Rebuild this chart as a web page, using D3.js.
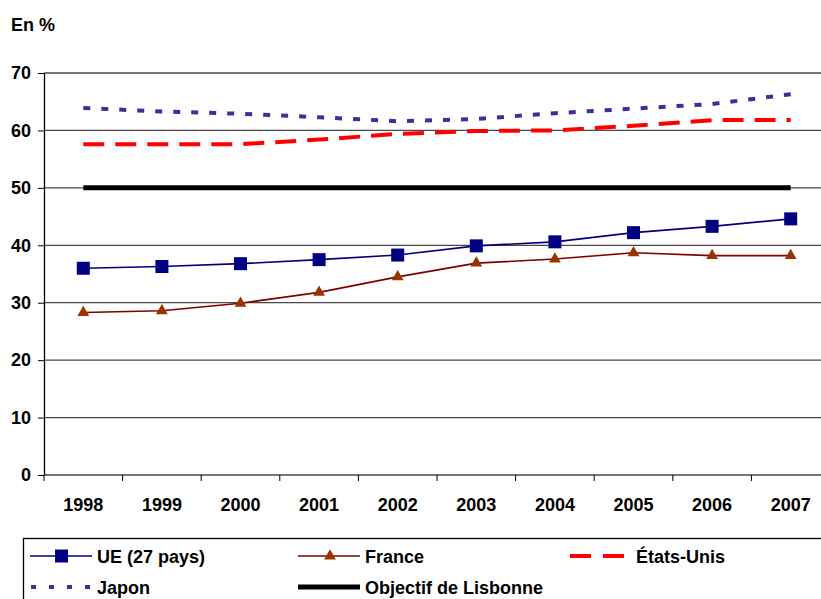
<!DOCTYPE html>
<html>
<head>
<meta charset="utf-8">
<script src="https://cdn.jsdelivr.net/npm/d3@7"></script>
<style>
body { margin: 0; background: #fff; }
svg { display: block; font-family: "Liberation Sans", Arial, sans-serif; font-weight: bold; }
</style>
</head>
<body>
<div id="chart"></div>
<script>
/*///////////////////////////////////////////////////////////
//Data
///////////////////////////////////////////////////////////*/
var years = ["1998", "1999", "2000", "2001", "2002", "2003", "2004", "2005", "2006", "2007"];
var yTicks = [0, 10, 20, 30, 40, 50, 60, 70];

var ue = [36.0, 36.3, 36.8, 37.5, 38.3, 39.9, 40.6, 42.2, 43.3, 44.6];
var france = [28.3, 28.6, 29.9, 31.8, 34.5, 36.9, 37.6, 38.7, 38.2, 38.2];
var etatsUnis = [57.6, 57.6, 57.6, 58.4, 59.4, 59.9, 60.0, 60.8, 61.8, 61.8];
var japon = [63.9, 63.3, 62.9, 62.3, 61.6, 62.0, 63.0, 63.8, 64.6, 66.3];
var lisbonne = [50, 50, 50, 50, 50, 50, 50, 50, 50, 50];

var legendItems = [
	{name: "UE (27 pays)", key: "ue"},
	{name: "France", key: "france"},
	{name: "États-Unis", key: "us"},
	{name: "Japon", key: "jp"},
	{name: "Objectif de Lisbonne", key: "lis"}
];

/*///////////////////////////////////////////////////////////
//Setup
///////////////////////////////////////////////////////////*/
var width = 821, height = 599;

var svg = d3.select("#chart").append("svg")
	.attr("width", width)
	.attr("height", height);

var x = d3.scaleBand()
	.domain(years)
	.range([44, 830]);

var y = d3.scaleLinear()
	.domain([0, 70])
	.range([475, 73]);

var cx = function(d, i) { return x(years[i]) + x.bandwidth() / 2; };

/*Gridlines*/
svg.append("g").selectAll("line")
	.data(yTicks)
	.enter().append("line")
	.attr("x1", 44).attr("x2", 830)
	.attr("y1", function(d) { return y(d); })
	.attr("y2", function(d) { return y(d); })
	.style("stroke", "#4a4a4a")
	.style("stroke-width", 1.3);

/*Y axis*/
var yAxis = svg.append("g")
	.attr("transform", "translate(44,0)")
	.call(d3.axisLeft(y).tickValues(yTicks).tickSize(6).tickPadding(7).tickSizeOuter(0));
yAxis.select(".domain").style("stroke", "#000").style("stroke-width", 1.3);
yAxis.selectAll(".tick line").style("stroke", "#000");
yAxis.selectAll("text")
	.style("font-size", "18px")
	.style("font-weight", "bold")
	.style("font-family", "'Liberation Sans', Arial, sans-serif")
	.attr("fill", "#000");

/*X axis: ticks at category boundaries*/
var xAxis = svg.append("g")
	.attr("transform", "translate(0,475)");
xAxis.selectAll("line")
	.data(years)
	.enter().append("line")
	.attr("x1", function(d) { return x(d); })
	.attr("x2", function(d) { return x(d); })
	.attr("y1", 0).attr("y2", 6)
	.style("stroke", "#000");
xAxis.selectAll("text")
	.data(years)
	.enter().append("text")
	.attr("x", function(d) { return x(d) + x.bandwidth() / 2; })
	.attr("y", 36)
	.attr("text-anchor", "middle")
	.style("font-size", "18px")
	.text(function(d) { return d; });

/*Unit label*/
svg.append("text")
	.attr("x", 11)
	.attr("y", 31)
	.style("font-size", "18px")
	.text("En %");

/*///////////////////////////////////////////////////////////
//Lines
///////////////////////////////////////////////////////////*/
var line = d3.line()
	.x(cx)
	.y(function(d) { return y(d); });

svg.append("path").datum(lisbonne)
	.attr("d", line)
	.style("fill", "none").style("stroke", "#000").style("stroke-width", 5);

svg.append("path").datum(japon)
	.attr("d", line)
	.style("fill", "none").style("stroke", "#333399").style("stroke-width", 4)
	.style("stroke-dasharray", "7,11");

svg.append("path").datum(etatsUnis)
	.attr("d", line)
	.style("fill", "none").style("stroke", "#ff0000").style("stroke-width", 4)
	.style("stroke-dasharray", "21,11");

svg.append("path").datum(france)
	.attr("d", line)
	.style("fill", "none").style("stroke", "#800000").style("stroke-width", 1.6);

var tri = d3.symbol().type(d3.symbolTriangle).size(60);
svg.append("g").selectAll("path")
	.data(france)
	.enter().append("path")
	.attr("d", tri)
	.attr("transform", function(d, i) { return "translate(" + cx(d, i) + "," + y(d) + ")"; })
	.style("fill", "#993300");

svg.append("path").datum(ue)
	.attr("d", line)
	.style("fill", "none").style("stroke", "#000080").style("stroke-width", 1.6);

svg.append("g").selectAll("rect")
	.data(ue)
	.enter().append("rect")
	.attr("x", function(d, i) { return cx(d, i) - 6.5; })
	.attr("y", function(d) { return y(d) - 6.5; })
	.attr("width", 13).attr("height", 13)
	.style("fill", "#000080");

/*///////////////////////////////////////////////////////////
//Legend
///////////////////////////////////////////////////////////*/
svg.append("rect")
	.attr("x", 23.5).attr("y", 538.5)
	.attr("width", 820).attr("height", 100)
	.style("fill", "none").style("stroke", "#000").style("stroke-width", 1.3);

var legPos = [
	{x: 30, y: 556}, {x: 298, y: 556}, {x: 570, y: 556},
	{x: 30, y: 587}, {x: 298, y: 587}
];

var leg = svg.append("g").selectAll("g")
	.data(legendItems)
	.enter().append("g")
	.attr("transform", function(d, i) { return "translate(" + legPos[i].x + "," + legPos[i].y + ")"; });

leg.each(function(d) {
	var g = d3.select(this);
	var w = d.key === "us" ? 56 : 62;
	var ln = g.append("line").attr("x1", 0).attr("x2", w).attr("y1", 0).attr("y2", 0);
	if (d.key === "ue") {
		ln.style("stroke", "#000080").style("stroke-width", 1.6);
		g.append("rect").attr("x", 25).attr("y", -6.5).attr("width", 13).attr("height", 13).style("fill", "#000080");
	} else if (d.key === "france") {
		ln.style("stroke", "#800000").style("stroke-width", 1.6);
		g.append("path").attr("d", tri).attr("transform", "translate(32,0)").style("fill", "#993300");
	} else if (d.key === "us") {
		ln.style("stroke", "#ff0000").style("stroke-width", 4).style("stroke-dasharray", "21,12");
	} else if (d.key === "jp") {
		ln.attr("x1", 1).style("stroke", "#333399").style("stroke-width", 4).style("stroke-dasharray", "5,13");
	} else {
		ln.style("stroke", "#000").style("stroke-width", 5);
	}
	g.append("text")
		.attr("x", d.key === "us" ? 66 : 67)
		.attr("y", 6.5)
		.style("font-size", "18px")
		.text(d.name);
});
</script>
</body>
</html>
